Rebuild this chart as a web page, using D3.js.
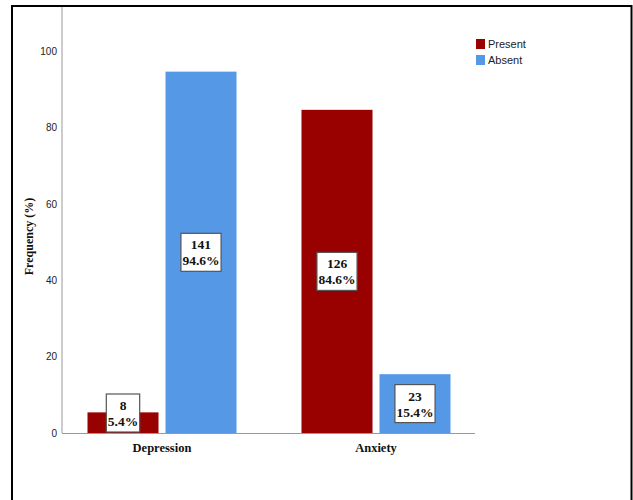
<!DOCTYPE html>
<html>
<head>
<meta charset="utf-8">
<script src="https://cdn.jsdelivr.net/npm/d3@7"></script>
<style>
  html, body { margin: 0; padding: 0; background: #fff; }
  svg { display: block; }
</style>
</head>
<body>
<script>
const categories = ["Depression", "Anxiety"];
const seriesNames = ["Present", "Absent"];
const percentValues = {
  Present: [5.4, 84.6],
  Absent: [94.6, 15.4]
};
const countValues = {
  Present: [8, 126],
  Absent: [141, 23]
};
const yTicks = [0, 20, 40, 60, 80, 100];
const colors = ["#990000", "#5599e6"];

const W = 633, H = 500;
const svg = d3.select("body").append("svg").attr("width", W).attr("height", H);

// frame
svg.append("rect").attr("x", 12).attr("y", 6).attr("width", 619.5).attr("height", 520)
  .attr("fill", "none").attr("stroke", "#000").attr("stroke-width", 2);

const y = d3.scaleLinear().domain([0, 100]).range([433, 51]);
const x0 = d3.scaleBand().domain(categories).range([55, 483]).paddingInner(0).paddingOuter(0);
const x1 = d3.scaleBand().domain(seriesNames).range([0, x0.bandwidth()])
  .paddingInner(7 / 78).paddingOuter(0.4167);
const color = d3.scaleOrdinal().domain(seriesNames).range(colors);

// y axis
const yAxis = d3.axisLeft(y).tickValues(yTicks).tickSize(0).tickPadding(5);
const gy = svg.append("g").attr("transform", "translate(62,0)").call(yAxis);
gy.select(".domain").remove();
gy.selectAll("text").attr("font-family", "'Liberation Sans Narrow', 'Liberation Sans', Arial, sans-serif")
  .attr("font-size", 10).attr("fill", "#222");
svg.append("line").attr("x1", 62).attr("x2", 62).attr("y1", 7).attr("y2", y(0))
  .attr("stroke", "#999").attr("stroke-width", 1);

// x axis
const xAxis = d3.axisBottom(x0).tickSize(0).tickPadding(10);
const gx = svg.append("g").attr("transform", `translate(0,${y(0)})`).call(xAxis);
gx.select(".domain").remove();
gx.selectAll("text").attr("font-family", "'Liberation Serif', 'Times New Roman', serif")
  .attr("font-size", 12.5).attr("font-weight", "bold").attr("fill", "#111");
svg.append("line").attr("x1", 62).attr("x2", 475).attr("y1", y(0) + 0.5).attr("y2", y(0) + 0.5)
  .attr("stroke", "#999").attr("stroke-width", 1);

// y label
svg.append("text")
  .attr("transform", `translate(33,${(y(0) + 40) / 2}) rotate(-90)`)
  .attr("text-anchor", "middle")
  .attr("font-family", "'Liberation Serif', 'Times New Roman', serif")
  .attr("font-weight", "bold").attr("font-size", 12).attr("fill", "#111")
  .text("Frequency (%)");

// bars
const data = [];
categories.forEach((c, i) => {
  seriesNames.forEach(s => {
    data.push({ cat: c, series: s, pct: percentValues[s][i], n: countValues[s][i] });
  });
});

svg.append("g").selectAll("rect").data(data).join("rect")
  .attr("x", d => x0(d.cat) + x1(d.series))
  .attr("y", d => y(d.pct))
  .attr("width", x1.bandwidth())
  .attr("height", d => y(0) - y(d.pct))
  .attr("fill", d => color(d.series));

// labels
const lg = svg.append("g");
data.forEach(d => {
  const cx = x0(d.cat) + x1(d.series) + x1.bandwidth() / 2;
  const boxH = 38;
  let cy = (y(d.pct) + y(0)) / 2;
  cy = Math.min(cy, y(0) - 1 - boxH / 2);
  const g = lg.append("g");
  const rect = g.append("rect");
  const t = g.append("text").attr("text-anchor", "middle")
    .attr("font-family", "'Liberation Serif', 'Times New Roman', serif")
    .attr("font-size", 13.5).attr("font-weight", "bold").attr("fill", "#111");
  t.append("tspan").attr("x", cx).attr("y", cy - 3).text(d.n);
  t.append("tspan").attr("x", cx).attr("y", cy + 13).text(d.pct.toFixed(1) + "%");
  const bb = t.node().getBBox();
  const bw = bb.width + 3;
  rect.attr("x", cx - bw / 2).attr("y", cy - boxH / 2).attr("width", bw).attr("height", boxH)
    .attr("fill", "#fff").attr("stroke", "#555").attr("stroke-width", 1.2);
});

// legend
const leg = svg.append("g").attr("transform", "translate(476,39)");
seriesNames.forEach((s, i) => {
  const g = leg.append("g").attr("transform", `translate(0,${i * 16})`);
  g.append("rect").attr("width", 9).attr("height", 10).attr("fill", color(s));
  g.append("text").attr("x", 12).attr("y", 9)
    .attr("font-family", "'Liberation Sans Narrow', 'Liberation Sans', Arial, sans-serif")
    .attr("font-size", 11).attr("fill", "#222").text(s);
});
</script>
</body>
</html>
